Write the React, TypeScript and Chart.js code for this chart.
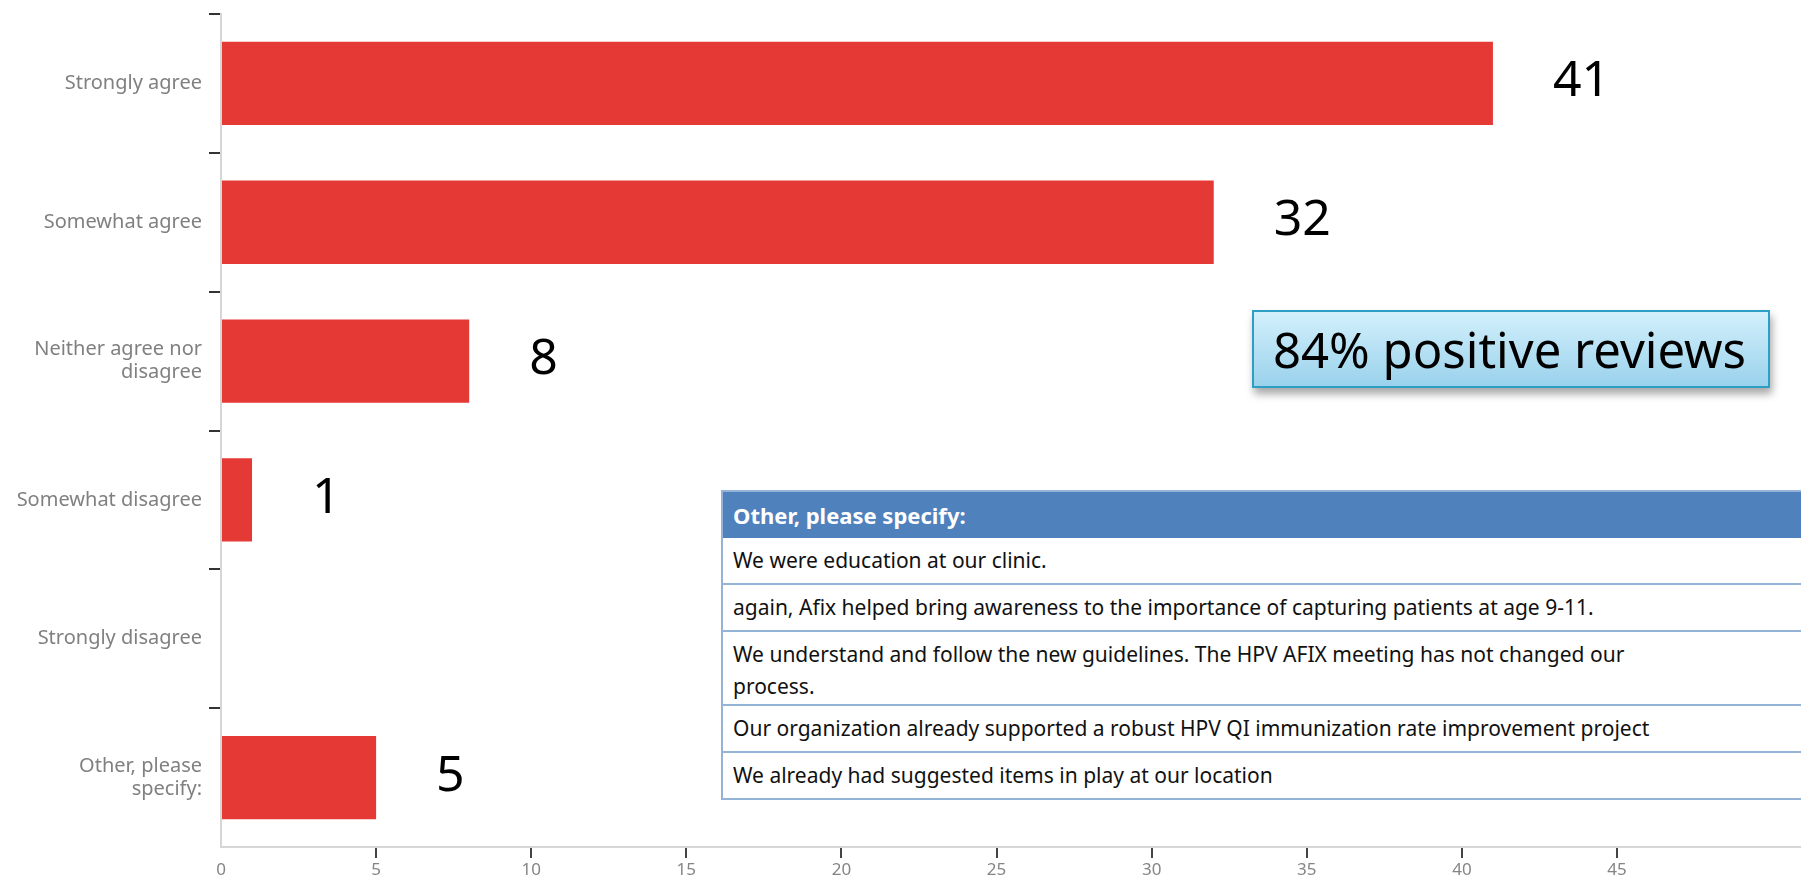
import React, { useEffect, useRef } from 'react';
import { Chart, registerables } from 'chart.js';

Chart.register(...registerables);

// ---- data ----
const categories: string[][] = [
  ['Strongly agree'],
  ['Somewhat agree'],
  ['Neither agree nor', 'disagree'],
  ['Somewhat disagree'],
  ['Strongly disagree'],
  ['Other, please', 'specify:'],
];
const responseCounts: number[] = [41, 32, 8, 1, 0, 5];
const xTickValues: number[] = [0, 5, 10, 15, 20, 25, 30, 35, 40, 45];
const xAxisMax = 50.93;

const calloutText = '84% positive reviews';
const tableHeader = 'Other, please specify:';
const otherResponses: string[] = [
  'We were education at our clinic.',
  'again, Afix helped bring awareness to the importance of capturing patients at age 9-11.',
  'We understand and follow the new guidelines. The HPV AFIX meeting has not changed our\nprocess.',
  'Our organization already supported a robust HPV QI immunization rate improvement project',
  'We already had suggested items in play at our location',
];

const BAR_RED = '#E53935';
const FONT = '"Noto Sans", "DejaVu Sans", sans-serif';

const valueLabels = {
  id: 'valueLabels',
  afterDatasetsDraw(chart: any) {
    const { ctx } = chart;
    const meta = chart.getDatasetMeta(0);
    ctx.save();
    ctx.font = `50px ${FONT}`;
    ctx.fillStyle = '#000000';
    ctx.textAlign = 'left';
    ctx.textBaseline = 'alphabetic';
    meta.data.forEach((bar: any, i: number) => {
      const v = responseCounts[i];
      if (!v) return;
      ctx.fillText(String(v), bar.x + 60, bar.y - 5 + 18);
    });
    ctx.restore();
  },
};

export default function App() {
  const canvasRef = useRef<HTMLCanvasElement | null>(null);

  useEffect(() => {
    if (!canvasRef.current) return;
    const chart = new Chart(canvasRef.current, {
      type: 'bar',
      data: {
        labels: categories,
        datasets: [
          {
            data: responseCounts,
            backgroundColor: BAR_RED,
            borderWidth: 0,
            barPercentage: 0.6,
            categoryPercentage: 1,
          },
        ],
      },
      options: {
        indexAxis: 'y',
        animation: false,
        responsive: false,
        maintainAspectRatio: false,
        layout: { padding: { top: 14, left: 0, right: 0, bottom: 0 } },
        plugins: { legend: { display: false }, tooltip: { enabled: false } },
        scales: {
          x: {
            min: 0,
            max: xAxisMax,
            afterBuildTicks: (s: any) => {
              s.ticks = xTickValues.map((v) => ({ value: v }));
            },
            afterFit: (s: any) => {
              s.height = 31;
              s.paddingLeft = 0;
              s.paddingRight = 0;
            },
            border: { display: true, color: '#d6d6d6', width: 2 },
            grid: {
              drawOnChartArea: false,
              drawTicks: true,
              tickLength: 11,
              lineWidth: 2,
              color: (c: any) => (c.type === 'tick' && c.index !== 0 ? '#444444' : 'rgba(0,0,0,0)'),
            },
            ticks: {
              color: '#858585',
              font: { family: FONT, size: 17 },
              padding: 2,
              maxRotation: 0,
              autoSkip: false,
            },
          },
          y: {
            afterFit: (s: any) => {
              s.width = 221;
              s.paddingTop = 0;
              s.paddingBottom = 0;
            },
            border: { display: true, color: '#d6d6d6', width: 2 },
            grid: {
              drawOnChartArea: false,
              offset: true,
              tickLength: 12,
              lineWidth: 2,
              color: (c: any) => (c.type === 'tick' ? '#333333' : 'rgba(0,0,0,0)'),
            },
            ticks: {
              color: '#808080',
              font: { family: FONT, size: 20, lineHeight: 1.15 },
              padding: 7,
              autoSkip: false,
            },
          },
        },
      },
      plugins: [valueLabels],
    } as any);
    return () => chart.destroy();
  }, []);

  return (
    <div
      style={{
        position: 'fixed',
        left: 0,
        top: 0,
        width: 1801,
        height: 878,
        overflow: 'hidden',
        background: '#ffffff',
      }}
    >
      <canvas ref={canvasRef} width={1801} height={878} style={{ position: 'absolute', left: 0, top: 0 }} />

      {/* callout */}
      <div
        style={{
          position: 'absolute',
          left: 1252,
          top: 310,
          width: 518,
          height: 78,
          boxSizing: 'border-box',
          border: '2px solid #2E9FC4',
          background: 'linear-gradient(#D3F0FC, #9AD2EC)',
          boxShadow: '2px 6px 8px rgba(0,0,0,0.35)',
          display: 'flex',
          alignItems: 'center',
          paddingLeft: 19,
          fontFamily: FONT,
          fontSize: 49,
          color: '#000',
          whiteSpace: 'nowrap',
        }}
      >
        {calloutText}
      </div>

      {/* table of other responses */}
      <div
        style={{
          position: 'absolute',
          left: 721,
          top: 490,
          width: 1101,
          fontFamily: FONT,
          boxSizing: 'border-box',
          borderLeft: '2px solid #95B3D7',
        }}
      >
        <div
          style={{
            height: 48,
            background: '#4F81BD',
            color: '#ffffff',
            fontWeight: 700,
            fontSize: 22,
            display: 'flex',
            alignItems: 'center',
            paddingLeft: 10,
            boxSizing: 'border-box',
            borderTop: '2px solid #95B3D7',
          }}
        >
          {tableHeader}
        </div>
        {otherResponses.map((t, i) => {
          const multi = t.includes('\n');
          return (
            <div
              key={i}
              style={{
                height: multi ? 74 : 47,
                boxSizing: 'border-box',
                borderBottom: '2px solid #95B3D7',
                background: '#ffffff',
                color: '#111111',
                fontSize: 21,
                lineHeight: multi ? '32px' : '45px',
                paddingLeft: 10,
                paddingTop: multi ? 6 : 0,
                whiteSpace: 'pre',
              }}
            >
              {t}
            </div>
          );
        })}
      </div>
    </div>
  );
}
